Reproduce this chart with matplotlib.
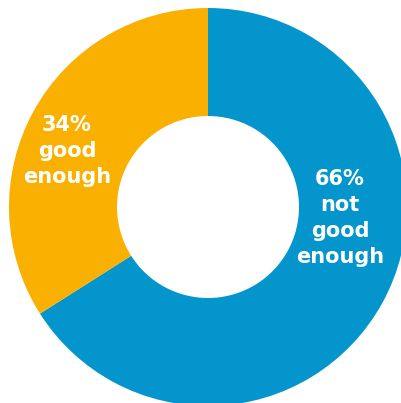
import matplotlib
matplotlib.use("Agg")
import matplotlib.pyplot as plt

# shares of answers
labels = ["66%\nnot\ngood\nenough", "34%\ngood\nenough"]
values = [66, 34]
colors = ["#0395CB", "#F9B000"]

W, H = 402, 403
fig = plt.figure(figsize=(W / 100, H / 100), dpi=100)
ax = fig.add_axes([0, 0, 1, 1])
ax.set_xlim(0, W)
ax.set_ylim(0, H)
ax.set_aspect("equal")
ax.axis("off")

cx, cy = 208, H - 207
r_out, r_in = 199, 91

ax.pie(values, colors=colors, startangle=90, counterclock=False,
       center=(cx, cy), radius=r_out,
       wedgeprops=dict(width=r_out - r_in, linewidth=0))

# label positions (pixels from top-left)
label_pos = [(340, 218), (67, 151)]
for text, (x, y) in zip(labels, label_pos):
    ax.text(x, H - y, text, ha="center", va="center", color="white",
            fontsize=15, fontweight="bold", linespacing=1.38,
            family="DejaVu Sans")

ax.set_xlim(0, W)
ax.set_ylim(0, H)
fig.savefig("out.png", dpi=100)
